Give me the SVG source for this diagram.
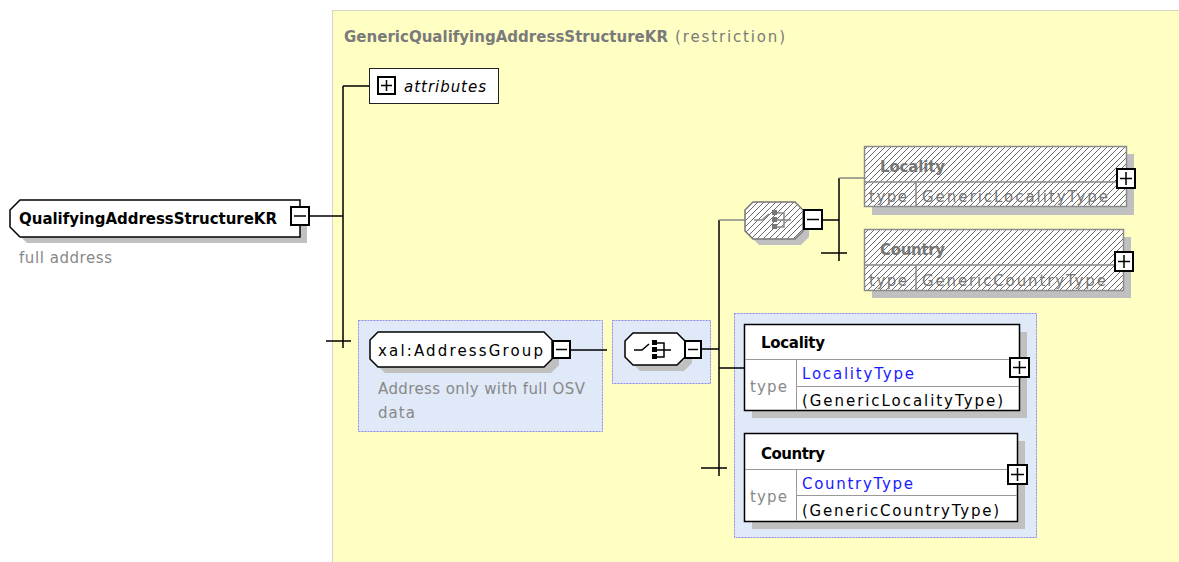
<svg xmlns="http://www.w3.org/2000/svg" width="1179" height="562" viewBox="0 0 1179 562">
<style>
.t{font-family:"DejaVu Sans","Liberation Sans",sans-serif;font-size:15px;fill:#000}
.b{font-weight:bold}
.g{fill:#888}
.bl{fill:#1a1aff}
.hg{fill:#777}
.sh{fill:#c0c0c0}
.box{fill:#fff;stroke:#000;stroke-width:1.5}
.hbox{fill:url(#hatch);stroke:#8a8a8a;stroke-width:1.5}
.grp{fill:#dfe9f7;stroke:#8888ee;stroke-width:1;stroke-dasharray:2,1}
.btn{fill:#fff;stroke:#000;stroke-width:2}
.ln{stroke:#000;stroke-width:1.5;fill:none}
.gl{stroke:#888;stroke-width:1.5;fill:none}
.dv{stroke:#999;stroke-width:1;fill:none}
</style>
<defs>
<pattern id="hatch" patternUnits="userSpaceOnUse" width="6" height="6">
<rect width="6" height="6" fill="#fff"/>
<path d="M0,6 L6,0 M-1,1 L1,-1 M5,7 L7,5" stroke="#444" stroke-width="0.8"/>
</pattern>
</defs>

<g id="container">
<rect x="332.5" y="10.5" width="850" height="560" fill="#ffffc4" stroke="#aaa" stroke-width="1" stroke-dasharray="1,1"/>
<text class="t b" x="344" y="42" style="fill:#7a7a7a" textLength="324" lengthAdjust="spacing">GenericQualifyingAddressStructureKR</text>
<text class="t" x="675" y="42" style="fill:#7a7a7a" textLength="110" lengthAdjust="spacing">(restriction)</text>
</g>

<g id="attributes">
<rect x="369.5" y="68.5" width="129" height="35" fill="#fff" stroke="#222" stroke-width="1"/>
<rect x="378" y="77" width="17" height="17" class="btn"/>
<path class="ln" d="M381,85.5 H392 M386.5,80 V91"/>
<text class="t" x="404" y="92" font-style="italic" textLength="82" lengthAdjust="spacing">attributes</text>
</g>

<g id="QualifyingAddressStructureKR">
<path class="sh" d="M17,216 L27,206 H307 V243 H27 L17,233 Z"/>
<path d="M10,210 L20,200 H300 V237 H20 L10,227 Z" fill="#fff" stroke="#000" stroke-width="1.5"/>
<text class="t b" x="19" y="224" textLength="258" lengthAdjust="spacing">QualifyingAddressStructureKR</text>
<rect x="291" y="207" width="18" height="18" class="btn"/>
<path class="ln" d="M294,216 H306"/>
<text class="t g" x="19" y="263" textLength="93" lengthAdjust="spacing">full address</text>
</g>

<g id="AddressGroup">
<rect class="grp" x="358.5" y="320.5" width="244" height="111"/>
<path class="sh" d="M385,338 H551 L559,346 V365 L551,373 H385 L377,365 V346 Z"/>
<path d="M378,332 H544 L552,340 V359 L544,367 H378 L370,359 V340 Z" fill="#fff" stroke="#000" stroke-width="1.5"/>
<text class="t" x="378" y="356" textLength="165" lengthAdjust="spacing">xal:AddressGroup</text>
<rect x="553" y="341" width="17" height="17" class="btn"/>
<path class="ln" d="M556,349.5 H567"/>
<text class="t g" x="378" y="394" textLength="207" lengthAdjust="spacing">Address only with full OSV</text>
<text class="t g" x="378" y="418" textLength="37" lengthAdjust="spacing">data</text>
</g>

<g id="sequence">
<rect class="grp" x="612.5" y="320.5" width="98" height="63"/>
<path class="sh" d="M640,339 H684 L692,347 V363 L684,371 H640 L632,363 V347 Z"/>
<path d="M633,333 H677 L685,341 V357 L677,365 H633 L625,357 V341 Z" fill="#fff" stroke="#000" stroke-width="1.5"/>
<path class="ln" d="M634,350 H642 L649,344"/>
<rect x="652" y="340" width="5" height="5" fill="#000"/>
<rect x="652" y="347" width="5" height="5" fill="#000"/>
<rect x="652" y="354" width="5" height="5" fill="#000"/>
<path class="ln" d="M657,343 H664 V357 H657 M657,350 H671"/>
<rect x="685" y="341" width="16" height="17" class="btn"/>
<path class="ln" d="M688,349.5 H698"/>
</g>

<g id="choice">
<path class="sh" d="M759,208 H801 L809,216 V237 L801,245 H759 L751,237 V216 Z"/>
<path d="M753,202 H795 L803,210 V231 L795,239 H753 L745,231 V210 Z" fill="url(#hatch)" stroke="#777" stroke-width="1.5"/>
<path class="gl" d="M754,220 H762 L769,214"/>
<rect x="772" y="210" width="5" height="5" fill="#777"/>
<rect x="772" y="217" width="5" height="5" fill="#777"/>
<rect x="772" y="224" width="5" height="5" fill="#777"/>
<path class="gl" d="M777,213 H784 V227 H777 M777,220 H791"/>
<rect x="804" y="210" width="18" height="19" class="btn"/>
<path class="ln" d="M807,219.5 H819"/>
</g>

<g id="Locality-restricted">
<rect class="sh" x="872" y="154" width="262" height="61"/>
<rect class="hbox" x="864.5" y="146.5" width="262" height="60"/>
<path class="gl" d="M864,182 H1126 M916,182 V206"/>
<text class="t b hg" x="880" y="172" textLength="65" lengthAdjust="spacing">Locality</text>
<text class="t hg" x="869" y="202" textLength="38" lengthAdjust="spacing">type</text>
<text class="t hg" x="922" y="202" textLength="186" lengthAdjust="spacing">GenericLocalityType</text>
<rect x="1117" y="169" width="18" height="19" class="btn"/>
<path class="ln" d="M1120,178.5 H1132 M1126,172 V185"/>
</g>

<g id="Country-restricted">
<rect class="sh" x="872" y="237" width="259" height="61"/>
<rect class="hbox" x="864.5" y="229.5" width="259" height="61"/>
<path class="gl" d="M864,265 H1123 M916,265 V290"/>
<text class="t b hg" x="880" y="255" textLength="65" lengthAdjust="spacing">Country</text>
<text class="t hg" x="869" y="286" textLength="38" lengthAdjust="spacing">type</text>
<text class="t hg" x="922" y="286" textLength="184" lengthAdjust="spacing">GenericCountryType</text>
<rect x="1115" y="252" width="18" height="19" class="btn"/>
<path class="ln" d="M1118,261.5 H1130 M1124,255 V268"/>
</g>

<g id="choice-group">
<rect class="grp" x="734.5" y="313.5" width="302" height="224"/>
</g>

<g id="Locality">
<rect class="sh" x="752" y="332" width="275" height="86"/>
<rect class="box" x="744.5" y="324.5" width="275" height="86"/>
<path class="dv" d="M745,359.5 H1019 M796.5,359 V410 M796,386.5 H1019"/>
<text class="t b" x="761" y="348" textLength="64" lengthAdjust="spacing">Locality</text>
<text class="t g" x="750" y="392" textLength="37" lengthAdjust="spacing">type</text>
<text class="t bl" x="802" y="379" textLength="112" lengthAdjust="spacing">LocalityType</text>
<text class="t" x="802" y="406" textLength="201" lengthAdjust="spacing">(GenericLocalityType)</text>
<rect x="1010" y="358" width="19" height="19" class="btn"/>
<path class="ln" d="M1013,367.5 H1026 M1019.5,361 V374"/>
</g>

<g id="Country">
<rect class="sh" x="752" y="441" width="273" height="88"/>
<rect class="box" x="744.5" y="433.5" width="273" height="88"/>
<path class="dv" d="M745,469.5 H1017 M796.5,469 V521 M796,495.5 H1017"/>
<text class="t b" x="761" y="459" textLength="64" lengthAdjust="spacing">Country</text>
<text class="t g" x="750" y="502" textLength="37" lengthAdjust="spacing">type</text>
<text class="t bl" x="802" y="489" textLength="111" lengthAdjust="spacing">CountryType</text>
<text class="t" x="802" y="516" textLength="197" lengthAdjust="spacing">(GenericCountryType)</text>
<rect x="1008" y="465" width="19" height="19" class="btn"/>
<path class="ln" d="M1011,474.5 H1024 M1017.5,468 V481"/>
</g>

<g id="connectors">
<path class="ln" d="M309,216 H343 M343,86 V348 M343,86 H369 M326,341 H351"/>
<path class="ln" d="M570,350 H607"/>
<path class="ln" d="M701,349 H719 M719,220 V476 M701,468 H727 M719,368 H744"/>
<path class="gl" d="M719,220 H745"/>
<path class="ln" d="M822,220 H839 M839,178 V261 M821,253 H847"/>
<path class="gl" d="M839,178 H865"/>
</g>
</svg>
